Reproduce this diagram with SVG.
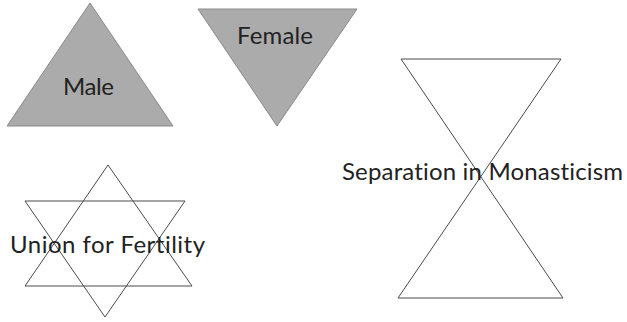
<svg xmlns="http://www.w3.org/2000/svg" width="627" height="322" viewBox="0 0 627 322">
<style>
.solid{fill:#ababab;stroke:#8a8a8a;stroke-width:1}
.open{fill:none;stroke:#4a4a4a;stroke-width:1}
.lbl{font-family:Lato,"Open Sans",sans-serif;font-size:24px;fill:#222;font-variant-ligatures:none}
</style>
<rect width="627" height="322" fill="#fff"/>
<g id="male">
<polygon class="solid" points="90,3 7,126 173,126"/>
<text class="lbl" x="63" y="95" textLength="51">Male</text>
</g>
<g id="female">
<polygon class="solid" points="198,9 357,9 277,126"/>
<text class="lbl" x="237" y="44" textLength="76">Female</text>
</g>
<g id="union">
<polygon class="open" points="108,165 25,286 192,286"/>
<polygon class="open" points="25,201 185,201 105,317"/>
<text class="lbl" x="10" y="253" textLength="195">Union for Fertility</text>
</g>
<g id="separation">
<polygon class="open" points="401,59 561,59 398,298 563,298"/>
<text class="lbl" x="342" y="180" textLength="281">Separation in Monasticism</text>
</g>
</svg>
